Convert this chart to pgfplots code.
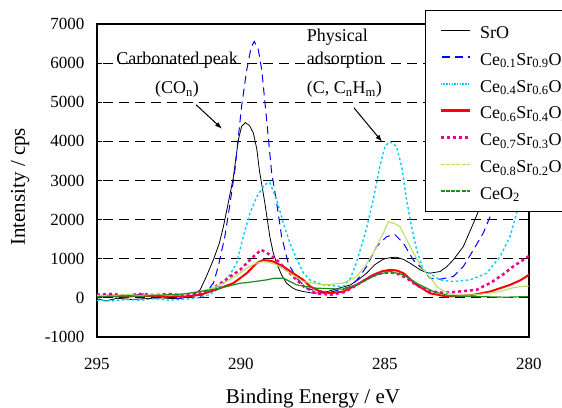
\documentclass[border=0pt]{standalone}
\usepackage{fontspec}
\setmainfont{Liberation Serif}
\usepackage{pgfplots}
\pgfplotsset{compat=1.18}
\usetikzlibrary{arrows.meta}
\definecolor{cyanL}{RGB}{0,204,255}
\definecolor{ygreen}{RGB}{185,222,100}
\definecolor{dgreen}{RGB}{30,140,30}
\definecolor{pblue}{RGB}{0,0,255}
\begin{document}
\begin{tikzpicture}[x=1pt,y=1pt]
\path[use as bounding box] (0,0) rectangle (562,407);
\begin{axis}[
  at={(97pt,70pt)}, anchor=south west, scale only axis,
  width=432pt, height=313pt,
  x dir=reverse, xmin=280, xmax=295, ymin=-1000, ymax=7000,
  xtick={280,285,290,295}, ytick={-1000,0,...,7000},
  xtick style={draw=none},
  ytick pos=left, tick align=inside, major tick length=5pt,
  ytick style={line width=1pt, black},
  axis line style={line width=1.6pt},
  ymajorgrids, grid style={black, line width=0.8pt, dash pattern=on 10pt off 6pt},
  /pgf/number format/assume math mode=true,
  /pgf/number format/.cd, 1000 sep={}, /pgfplots/.cd,
  ticklabel style={font=\fontsize{17}{19}\selectfont},
  yticklabel style={xshift=-9pt},
  xticklabel style={yshift=-18pt},
  xlabel={Binding Energy / eV}, ylabel={Intensity / cps},
  label style={font=\fontsize{21}{24}\selectfont},
  xlabel style={at={(axis description cs:0.5,-0.212)}, anchor=base},
  ylabel style={at={(axis description cs:-0.178,0.48)}, anchor=center},
  legend cell align=left,
  legend image code/.code={\draw[#1] (0pt,0pt) -- (29pt,0pt);},
  legend style={at={(axis description cs:0.759,1.045)}, anchor=north west,
    draw=black, line width=1pt, fill=white, font=\fontsize{18}{20}\selectfont,
    inner xsep=14pt, inner ysep=11pt, row sep=8.8pt, column sep=9pt,
    nodes={inner sep=0pt, text height=17pt, text depth=1pt}},
]
\addplot[draw=black, line width=0.8pt, legend image post style={line width=1.8pt}] coordinates {
(295,-20) (294.7,-80) (294.3,-10) (293.8,-40) (293.3,-20) (292.8,0) (292.3,-20) (292.0,0) (291.7,40) (291.42,205) (291.2,550) (290.96,972) (290.75,1400) (290.61,1824) (290.45,2400) (290.27,3060) (290.09,4041) (289.98,4381) (289.85,4480) (289.7,4400) (289.57,4212) (289.45,3800) (289.36,3250) (289.17,2421) (289.0,1568) (288.88,1150) (288.76,887) (288.6,600) (288.42,375) (288.2,250) (288.07,205) (287.84,162) (287.49,119) (287.14,130) (286.8,205) (286.5,270) (286.2,332) (285.9,480) (285.64,631) (285.35,850) (285.06,989) (284.8,1030) (284.59,1040) (284.35,980) (284.13,887) (283.95,800) (283.78,716) (283.6,660) (283.44,631) (283.09,673) (282.85,800) (282.63,972) (282.28,1312) (281.93,1910) (281.64,2421) (281.45,2800) (281.2,3400) (281.0,3900)};
\addlegendentry{SrO}
\addplot[draw=pblue, line width=1pt, dash pattern=on 8pt off 5pt, legend image post style={line width=1.8pt, dash pattern=on 8pt off 5pt, dash phase=-1pt}] coordinates {
(295,20) (294.6,40) (294.2,20) (293.8,60) (293.4,100) (293.0,40) (292.6,20) (292.2,-20) (291.8,10) (291.42,34) (291.19,162) (290.96,375) (290.79,801) (290.56,1568) (290.38,2421) (290.21,3274) (290.15,3700) (289.98,4893) (289.8,5831) (289.65,6400) (289.54,6555) (289.4,6350) (289.28,5831) (289.11,4552) (288.94,3230) (288.76,2421) (288.59,1568) (288.36,887) (288.07,500) (287.72,248) (287.14,119) (286.8,162) (286.2,289) (285.9,520) (285.64,801) (285.29,1312) (284.94,1568) (284.65,1611) (284.36,1398) (284.02,972) (283.67,716) (283.44,503) (283.09,477) (282.63,545) (282.28,801) (281.93,1228) (281.59,1654) (281.30,2165) (281.1,2500) (280.8,3200)};
\addlegendentry{Ce\textsubscript{0.1}Sr\textsubscript{0.9}O\textsubscript{x}}
\addplot[draw=cyanL, line width=1.4pt, dash pattern=on 2.5pt off 2.5pt, legend image post style={line width=1.5pt, dash pattern=on 1.5pt off 1.2pt}] coordinates {
(295,-60) (294.5,-80) (294,-40) (293.5,-60) (293,-20) (292.5,-60) (292,-40) (291.5,0) (291.1,80) (290.85,205) (290.61,375) (290.38,600) (290.15,887) (289.92,1568) (289.69,2165) (289.45,2591) (289.17,2900) (289.0,2950) (288.76,2506) (288.53,1910) (288.30,1398) (288.07,1000) (287.84,650) (287.61,460) (287.14,332) (286.45,289) (286.2,500) (285.99,900) (285.64,1780) (285.41,2506) (285.18,3358) (285.0,3869) (284.83,3997) (284.60,3869) (284.42,3358) (284.25,2506) (284.08,1824) (283.90,1228) (283.67,716) (283.44,620) (283.09,460) (282.63,417) (282.05,460) (281.47,631) (281.0,1057) (280.66,1568) (280.43,2165) (280.31,2506) (280.1,3100)};
\addlegendentry{Ce\textsubscript{0.4}Sr\textsubscript{0.6}O\textsubscript{x}}
\addplot[draw=red, line width=2pt, legend image post style={line width=2.8pt}] coordinates {
(295,40) (294.5,60) (294,30) (293.5,60) (293,40) (292.5,50) (292,30) (291.42,77) (291.0,180) (290.73,248) (290.27,375) (290.0,520) (289.80,631) (289.46,887) (289.23,965) (289.0,950) (288.88,929) (288.53,801) (288.19,631) (287.84,460) (287.61,300) (287.3,180) (286.91,119) (286.45,162) (285.99,332) (285.41,588) (285.1,680) (284.83,716) (284.6,700) (284.36,631) (283.90,332) (283.44,119) (282.86,34) (282.4,50) (281.93,77) (281.35,162) (280.66,332) (280.3,450) (280.0,590)};
\addlegendentry{Ce\textsubscript{0.6}Sr\textsubscript{0.4}O\textsubscript{x}}
\addplot[draw=magenta, line width=2.5pt, dash pattern=on 3pt off 3pt] coordinates {
(295,80) (294.5,100) (294,60) (293.5,100) (293,70) (292.5,100) (292,60) (291.5,100) (291.2,180) (290.96,248) (290.5,480) (290.03,716) (289.63,1015) (289.3,1230) (289.1,1150) (288.76,972) (288.42,716) (288.07,460) (287.8,280) (287.4,120) (286.9,80) (286.4,150) (286.0,320) (285.5,540) (285.1,640) (284.8,650) (284.5,600) (284.2,480) (283.9,320) (283.5,180) (283.0,130) (282.6,150) (282.2,180) (281.82,205) (281.3,400) (280.9,600) (280.55,801) (280.0,1070)};
\addlegendentry{Ce\textsubscript{0.7}Sr\textsubscript{0.3}O\textsubscript{x}}
\addplot[draw=ygreen, line width=1.1pt, legend image post style={line width=1.8pt, dash pattern=on 4pt off 1.2pt}] coordinates {
(295,60) (294.5,50) (294,90) (293.5,60) (293,80) (292.5,60) (292,100) (291.5,150) (291,250) (290.5,420) (290.1,600) (289.80,759) (289.5,880) (289.23,929) (289.0,900) (288.76,844) (288.30,631) (287.84,417) (287.14,332) (286.45,375) (285.99,545) (285.7,800) (285.41,1142) (285.06,1654) (284.88,1952) (284.68,1900) (284.48,1824) (284.13,1312) (283.90,1000) (283.67,716) (283.32,420) (283.21,289) (282.9,150) (282.63,77) (282.3,70) (281.93,77) (281.4,120) (280.89,180) (280.6,250) (280.31,289) (280.0,300)};
\addlegendentry{Ce\textsubscript{0.8}Sr\textsubscript{0.2}O\textsubscript{x}}
\addplot[draw=dgreen, line width=1.2pt, legend image post style={line width=1.8pt, dash pattern=on 4pt off 1.2pt}] coordinates {
(295,30) (294.5,40) (294,50) (293.5,40) (293,60) (292.5,80) (292,100) (291.42,162) (290.73,248) (290.03,375) (289.80,390) (289.11,460) (288.85,500) (288.53,503) (288.3,420) (288.07,332) (287.38,248) (286.45,222) (285.87,375) (285.29,588) (284.83,673) (284.36,588) (283.90,375) (283.32,162) (282.74,51) (281.93,34) (280.78,17) (280.03,34)};
\addlegendentry{CeO\textsubscript{2}}
\node[anchor=base, font=\fontsize{18}{20}\selectfont] at (axis cs:292.22,5959) {Carbonated peak};
\node[anchor=base, font=\fontsize{18}{20}\selectfont] at (axis cs:292.22,5217) {(CO\textsubscript{n})};
\node[anchor=base west, font=\fontsize{18}{20}\selectfont, inner sep=0pt] at (axis cs:287.72,6547) {Physical};
\node[anchor=base west, font=\fontsize{18}{20}\selectfont, inner sep=0pt] at (axis cs:287.72,5959) {adsorption};
\node[anchor=base west, font=\fontsize{18}{20}\selectfont, inner sep=0pt] at (axis cs:287.72,5217) {(C, C\textsubscript{n}H\textsubscript{m})};
\draw[-{Latex[length=7pt,width=5pt]}, line width=1pt] (axis cs:291.56,4936) -- (axis cs:290.66,4322);
\draw[-{Latex[length=7pt,width=5pt]}, line width=1pt] (axis cs:286.08,4859) -- (axis cs:285.10,3990);
\end{axis}
\end{tikzpicture}
\end{document}
